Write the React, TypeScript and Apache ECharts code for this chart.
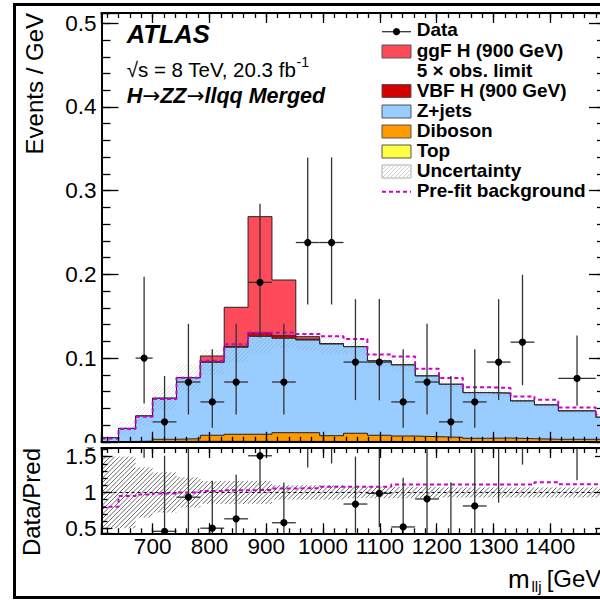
import React, { useEffect, useRef } from "react";
import * as echarts from "echarts";

// m_llj bin edges (GeV)
const binEdges = [610, 640, 670, 700, 742, 784, 826, 868, 910, 952, 994, 1036, 1078, 1120, 1162, 1204, 1246, 1288, 1330, 1372, 1414, 1480, 1500];

// Observed events per bin and the 68% Poisson interval on each count
const dataCounts = [0, 0, 3, 1, 3, 2, 3, 8, 3, 10, 10, 4, 4, 2, 3, 1, 2, 4, 5, 0, 5, 0];
const dataLow = [0, 0, 1.37, 0.17, 1.37, 0.71, 1.37, 5.23, 1.37, 6.89, 6.89, 2.09, 2.09, 0.71, 1.37, 0.17, 0.71, 2.09, 2.84, 0, 2.84, 0];
const dataHigh = [1.84, 1.84, 5.92, 3.3, 5.92, 4.64, 5.92, 11.95, 5.92, 14.27, 14.27, 7.16, 7.16, 4.64, 5.92, 3.3, 4.64, 7.16, 8.38, 1.84, 8.38, 1.84];

// Post-fit predictions (events / GeV)
const topBkg = [0.0002, 0.0003, 0.0004, 0.0005, 0.0006, 0.0006, 0.0006, 0.0005, 0.0005, 0.0005, 0.0004, 0.0004, 0.0004, 0.0003, 0.0003, 0.0003, 0.0002, 0.0002, 0.0002, 0.0002, 0.0002, 0.0002];
const dibosonBkg = [0.0001, 0.0001, 0.0004, 0.0025, 0.0031, 0.0072, 0.0084, 0.0085, 0.0104, 0.0104, 0.0069, 0.0098, 0.0074, 0.0066, 0.0058, 0.005, 0.004, 0.0043, 0.0035, 0.0028, 0.0028, 0.0028];
const zjetsBkg = [0.0047, 0.0156, 0.03, 0.049, 0.0728, 0.0872, 0.104, 0.117, 0.1128, 0.1107, 0.1095, 0.1034, 0.0887, 0.0849, 0.0725, 0.0634, 0.0545, 0.0535, 0.045, 0.041, 0.0338, 0.0263];
const vbfSignal = [0, 0, 0, 0, 0, 0.0005, 0.001, 0.004, 0.003, 0.001, 0, 0, 0, 0, 0, 0, 0, 0, 0, 0, 0, 0];
const ggfSignal = [0, 0, 0, 0, 0, 0.007, 0.0467, 0.139, 0.0666, 0.003, 0.0005, 0, 0, 0, 0, 0, 0, 0, 0, 0, 0, 0];

// Pre-fit total background (events / GeV)
const prefitBkg = [0.004, 0.0152, 0.0299, 0.0512, 0.0765, 0.0969, 0.1164, 0.1304, 0.1305, 0.1289, 0.1261, 0.1227, 0.1042, 0.1019, 0.0872, 0.0763, 0.0652, 0.0644, 0.0541, 0.0502, 0.041, 0.0327];

// Relative background uncertainty per bin
const bkgRelUnc = [0.5, 0.5, 0.35, 0.28, 0.21, 0.16, 0.16, 0.16, 0.1, 0.1, 0.1, 0.08, 0.08, 0.08, 0.08, 0.07, 0.07, 0.07, 0.07, 0.07, 0.07, 0.07];

// Axis ranges and ticks
const X_MIN = 610;
const X_MAX = 1498;
const X_LABELS = [700, 800, 900, 1000, 1100, 1200, 1300, 1400];
const MAIN_Y_MAX = 0.5123;
const RATIO_MIN = 0.43;
const RATIO_MAX = 1.62;

const FONT = '"Liberation Sans", Arial, Helvetica, sans-serif';
const SYMBOL_FONT = '"DejaVu Sans", sans-serif';

const nBins = binEdges.length - 1;
const widths = binEdges.slice(1).map((e, i) => e - binEdges[i]);
const centers = binEdges.slice(1).map((e, i) => (e + binEdges[i]) / 2);
const bkgTotal = zjetsBkg.map((z, i) => z + dibosonBkg[i] + topBkg[i]);
const cumDiboson = dibosonBkg.map((d, i) => d + topBkg[i]);
const cumVbf = bkgTotal.map((b, i) => b + vbfSignal[i]);
const cumGgf = cumVbf.map((b, i) => b + ggfSignal[i]);
const prefitRatio = prefitBkg.map((p, i) => p / bkgTotal[i]);

function stepPoints(values: number[]) {
  return binEdges.map((e, i) => [e, values[Math.min(i, nBins - 1)]]);
}

const mainPoints: number[][] = [];
const ratioPoints: number[][] = [];
for (let i = 0; i < nBins; i++) {
  if (dataCounts[i] <= 0) continue;
  const w = widths[i];
  const b = bkgTotal[i];
  mainPoints.push([centers[i], binEdges[i], binEdges[i + 1], dataCounts[i] / w, dataLow[i] / w, dataHigh[i] / w]);
  ratioPoints.push([centers[i], binEdges[i], binEdges[i + 1], dataCounts[i] / w / b, dataLow[i] / w / b, dataHigh[i] / w / b]);
}
const mainBand = bkgTotal.map((b, i) => [binEdges[i], binEdges[i + 1], b * (1 - bkgRelUnc[i]), b * (1 + bkgRelUnc[i])]);
const ratioBand = bkgRelUnc.map((u, i) => [binEdges[i], binEdges[i + 1], 1 - u, 1 + u]);

// "/" hatch lines clipped to a rectangle, aligned on a global pixel grid
function hatchLines(x0: number, y0: number, x1: number, y1: number, step: number, style: any) {
  const out: any[] = [];
  if (x1 <= x0 || y1 <= y0) return out;
  const cStart = Math.ceil((x0 + y0) / step) * step;
  for (let c = cStart; c <= x1 + y1; c += step) {
    const xs = Math.max(x0, c - y1);
    const xe = Math.min(x1, c - y0);
    if (xe - xs > 0.2) {
      out.push({ type: "line", shape: { x1: xs, y1: c - xs, x2: xe, y2: c - xe }, style });
    }
  }
  return out;
}

function makeHatchRenderer(color: string, width: number, step: number) {
  return (params: any, api: any) => {
    const cs = params.coordSys;
    const p0 = api.coord([api.value(0), api.value(3)]);
    const p1 = api.coord([api.value(1), api.value(2)]);
    const x0 = Math.max(cs.x, p0[0]);
    const x1 = Math.min(cs.x + cs.width, p1[0]);
    const y0 = Math.max(cs.y, p0[1]);
    const y1 = Math.min(cs.y + cs.height, p1[1]);
    return { type: "group", children: hatchLines(x0, y0, x1, y1, step, { stroke: color, lineWidth: width }) };
  };
}

function renderDataPoint(params: any, api: any) {
  const cs = params.coordSys;
  const top = cs.y;
  const bottom = cs.y + cs.height;
  const xc = api.value(0);
  const v = api.value(3);
  const pc = api.coord([xc, v]);
  const pl = api.coord([api.value(1), v]);
  const pr = api.coord([api.value(2), v]);
  const yLo = api.coord([xc, api.value(4)])[1];
  const yHi = api.coord([xc, api.value(5)])[1];
  const y1 = Math.max(top, Math.min(bottom, yHi));
  const y2 = Math.max(top, Math.min(bottom, yLo));
  const stroke = { stroke: "#333", lineWidth: 1.3 };
  const children: any[] = [];
  if (y2 - y1 > 0.5) {
    children.push({ type: "line", shape: { x1: pc[0], y1, x2: pc[0], y2 }, style: stroke });
  }
  if (pc[1] >= top - 0.5 && pc[1] <= bottom + 0.5) {
    children.push({ type: "line", shape: { x1: pl[0], y1: pc[1], x2: pr[0], y2: pc[1] }, style: stroke });
    children.push({ type: "circle", shape: { cx: pc[0], cy: pc[1], r: 3.6 }, style: { fill: "#000" } });
  }
  return { type: "group", children };
}

const axisLineStyle = { color: "#000", width: 1.8 };
const tickLineStyle = { color: "#000", width: 1.3 };

function xAxisDef(gridIndex: number, position: string, step: number, len: number, labels: boolean) {
  return {
    type: "value",
    gridIndex,
    position,
    min: X_MIN,
    max: X_MAX,
    minInterval: step,
    maxInterval: step,
    splitNumber: Math.round((X_MAX - X_MIN) / step),
    z: 10,
    axisLine: { show: true, onZero: false, lineStyle: axisLineStyle },
    axisTick: { show: true, inside: true, length: len, lineStyle: tickLineStyle },
    axisLabel: labels
      ? {
          show: true,
          margin: 2,
          fontSize: 22.5,
          fontFamily: FONT,
          color: "#000",
          formatter: (v: number) => (X_LABELS.indexOf(Math.round(v)) >= 0 && Math.abs(v - Math.round(v)) < 1e-6 ? String(Math.round(v)) : ""),
        }
      : { show: false },
    splitLine: { show: false },
  };
}

function yAxisDef(gridIndex: number, position: string, min: number, max: number, step: number, len: number, labels: number[] | null) {
  return {
    type: "value",
    gridIndex,
    position,
    min,
    max,
    minInterval: step,
    maxInterval: step,
    splitNumber: Math.max(1, Math.round((max - min) / step)),
    z: 10,
    axisLine: { show: true, onZero: false, lineStyle: axisLineStyle },
    axisTick: { show: true, inside: true, length: len, lineStyle: tickLineStyle },
    axisLabel: labels
      ? {
          show: true,
          margin: 5,
          fontSize: 22.5,
          fontFamily: FONT,
          color: "#000",
          formatter: (v: number) => {
            const hit = labels.find((l) => Math.abs(l - v) < 1e-6);
            return hit === undefined ? "" : String(hit);
          },
        }
      : { show: false },
    splitLine: { show: false },
  };
}

function areaSeries(name: string, values: number[], color: string, z: number) {
  return {
    type: "line",
    name,
    xAxisIndex: 0,
    yAxisIndex: 0,
    step: "end",
    symbol: "none",
    silent: true,
    clip: true,
    z,
    data: stepPoints(values),
    lineStyle: { color: "#222", width: 1 },
    areaStyle: { color, opacity: 1, origin: "start" },
  };
}

const MAGENTA = "#cc00cc";
const C_GGF = "#ff4a5a";
const C_VBF = "#d40000";
const C_ZJETS = "#99ccff";
const C_DIBOSON = "#ff9900";
const C_TOP = "#ffff44";

function legendGraphics() {
  const g: any[] = [];
  const bx = 382;
  const bw = 29;
  const tx = 416.7;
  const txt = (text: string, y: number) => ({
    type: "text",
    z: 20,
    style: { text, x: tx, y, fill: "#000", fontSize: 19, fontWeight: "bold", fontFamily: FONT, align: "left", verticalAlign: "middle" },
  });
  const box = (y: number, fill: string, stroke = "#555") => ({
    type: "rect",
    z: 20,
    shape: { x: bx, y, width: bw, height: 13 },
    style: { fill, stroke, lineWidth: 1 },
  });
  // Data
  g.push({ type: "line", z: 20, shape: { x1: bx, y1: 31.7, x2: bx + bw, y2: 31.7 }, style: { stroke: "#333", lineWidth: 1.3 } });
  g.push({ type: "circle", z: 20, shape: { cx: bx + bw / 2, cy: 31.7, r: 3.6 }, style: { fill: "#000" } });
  g.push(txt("Data", 29.5));
  g.push(box(45, C_GGF));
  g.push(txt("ggF H (900 GeV)", 50.5));
  g.push(txt("5 \u00d7 obs. limit", 70));
  g.push(box(84.5, C_VBF));
  g.push(txt("VBF H (900 GeV)", 90.5));
  g.push(box(105, C_ZJETS));
  g.push(txt("Z+jets", 110.8));
  g.push(box(125, C_DIBOSON));
  g.push(txt("Diboson", 130));
  g.push(box(145, C_TOP));
  g.push(txt("Top", 150));
  g.push(box(165, "#fff", "#aaa"));
  hatchLines(bx + 1, 166, bx + bw - 1, 177, 4, { stroke: "rgba(150,150,150,0.45)", lineWidth: 1 }).forEach((l) => g.push({ ...l, z: 20 }));
  g.push(txt("Uncertainty", 170));
  g.push({ type: "line", z: 20, shape: { x1: bx, y1: 191.7, x2: bx + bw, y2: 191.7 }, style: { stroke: MAGENTA, lineWidth: 2, lineDash: [4, 3] } });
  g.push(txt("Pre-fit background", 190.5));
  return g;
}

function buildOption(): any {
  const graphic: any[] = [
    // outer frame of the figure
    { type: "rect", z: 30, shape: { x: 14.5, y: 4.5, width: 620, height: 593 }, style: { fill: "none", stroke: "#000", lineWidth: 3 } },
    // pad edge hiding the lower half of the "0" label
    { type: "rect", z: 25, shape: { x: 40, y: 442.8, width: 59, height: 4.8 }, style: { fill: "#fff" } },
    { type: "text", z: 20, style: { text: "ATLAS", x: 126.7, y: 34.3, fill: "#000", fontSize: 25.5, fontWeight: "bold", fontStyle: "italic", fontFamily: FONT, align: "left", verticalAlign: "middle" } },
    { type: "text", z: 20, style: { text: "\u221as = 8 TeV, 20.3 fb", x: 126.7, y: 69.3, fill: "#000", fontSize: 20.5, fontFamily: FONT, align: "left", verticalAlign: "middle" } },
    { type: "text", z: 20, style: { text: "-1", x: 296.5, y: 61.5, fill: "#000", fontSize: 14, fontFamily: FONT, align: "left", verticalAlign: "middle" } },
    {
      type: "text",
      z: 20,
      style: {
        text: "{t|H}{a|\u2192}{t|ZZ}{a|\u2192}{t|llqq Merged}",
        x: 126.7,
        y: 95.5,
        fill: "#000",
        align: "left",
        verticalAlign: "middle",
        rich: {
          t: { fontSize: 21.5, fontWeight: "bold", fontStyle: "italic", fontFamily: FONT, fill: "#000" },
          a: { fontSize: 21.5, fontWeight: "normal", fontFamily: SYMBOL_FONT, fill: "#000" },
        },
      },
    },
    { type: "text", z: 20, x: 34.5, y: 13, rotation: Math.PI / 2, style: { text: "Events / GeV", x: 0, y: 0, fill: "#000", fontSize: 24, fontFamily: FONT, align: "right", verticalAlign: "middle" } },
    { type: "text", z: 20, x: 31, y: 448, rotation: Math.PI / 2, style: { text: "Data/Pred", x: 0, y: 0, fill: "#000", fontSize: 24, fontFamily: FONT, align: "right", verticalAlign: "middle" } },
    { type: "text", z: 20, style: { text: "m", x: 508, y: 578.5, fill: "#000", fontSize: 26, fontFamily: FONT, align: "left", verticalAlign: "middle" } },
    { type: "text", z: 20, style: { text: "llj", x: 531.5, y: 586, fill: "#000", fontSize: 15, fontFamily: FONT, align: "left", verticalAlign: "middle" } },
    { type: "text", z: 20, style: { text: "[GeV]", x: 546.7, y: 578.5, fill: "#000", fontSize: 24, fontFamily: FONT, align: "left", verticalAlign: "middle" } },
    ...legendGraphics(),
  ];

  return {
    animation: false,
    backgroundColor: "#fff",
    textStyle: { fontFamily: FONT },
    grid: [
      { left: 101.5, top: 13, width: 504.5, height: 428.8, outerBoundsMode: "none", containLabel: false },
      { left: 101.5, top: 448, width: 504.5, height: 85.3, outerBoundsMode: "none", containLabel: false },
    ],
    xAxis: [
      xAxisDef(0, "bottom", 100, 10, false),
      xAxisDef(0, "bottom", 20, 5, false),
      xAxisDef(0, "top", 100, 10, false),
      xAxisDef(0, "top", 20, 5, false),
      xAxisDef(1, "bottom", 100, 10, true),
      xAxisDef(1, "bottom", 20, 5, false),
      xAxisDef(1, "top", 100, 10, false),
      xAxisDef(1, "top", 20, 5, false),
    ],
    yAxis: [
      yAxisDef(0, "left", 0, MAIN_Y_MAX, 0.1, 17, [0, 0.1, 0.2, 0.3, 0.4, 0.5]),
      yAxisDef(0, "left", 0, MAIN_Y_MAX, 0.02, 9, null),
      yAxisDef(0, "right", 0, MAIN_Y_MAX, 0.1, 17, null),
      yAxisDef(0, "right", 0, MAIN_Y_MAX, 0.02, 9, null),
      yAxisDef(1, "left", RATIO_MIN, RATIO_MAX, 0.5, 11, [0.5, 1, 1.5]),
      yAxisDef(1, "left", RATIO_MIN, RATIO_MAX, 0.1, 6, null),
      yAxisDef(1, "right", RATIO_MIN, RATIO_MAX, 0.5, 11, null),
      yAxisDef(1, "right", RATIO_MIN, RATIO_MAX, 0.1, 6, null),
    ],
    graphic,
    series: [
      areaSeries("ggF H (900 GeV)", cumGgf, C_GGF, 2),
      areaSeries("VBF H (900 GeV)", cumVbf, C_VBF, 3),
      areaSeries("Z+jets", bkgTotal, C_ZJETS, 4),
      areaSeries("Diboson", cumDiboson, C_DIBOSON, 5),
      areaSeries("Top", topBkg, C_TOP, 6),
      {
        type: "custom",
        name: "Uncertainty",
        xAxisIndex: 0,
        yAxisIndex: 0,
        z: 7,
        silent: true,
        data: mainBand,
        encode: { x: [0, 1], y: [2, 3] },
        renderItem: makeHatchRenderer("rgba(120,120,120,0.2)", 1, 4),
      },
      {
        type: "line",
        name: "Pre-fit background",
        xAxisIndex: 0,
        yAxisIndex: 0,
        step: "end",
        symbol: "none",
        silent: true,
        z: 8,
        data: stepPoints(prefitBkg),
        lineStyle: { color: MAGENTA, width: 2, type: [4, 3] },
      },
      {
        type: "custom",
        name: "Data",
        xAxisIndex: 0,
        yAxisIndex: 0,
        z: 9,
        silent: true,
        data: mainPoints,
        encode: { x: 0, y: 3 },
        renderItem: renderDataPoint,
      },
      {
        type: "custom",
        name: "Uncertainty ratio",
        xAxisIndex: 4,
        yAxisIndex: 4,
        z: 7,
        silent: true,
        data: ratioBand,
        encode: { x: [0, 1], y: [2, 3] },
        renderItem: makeHatchRenderer("#5a5a5a", 0.9, 4.5),
      },
      {
        type: "line",
        name: "Unity",
        xAxisIndex: 4,
        yAxisIndex: 4,
        symbol: "none",
        silent: true,
        z: 8,
        data: [
          [X_MIN, 1],
          [X_MAX, 1],
        ],
        lineStyle: { color: "#000", width: 1, type: [3, 3] },
      },
      {
        type: "line",
        name: "Pre-fit ratio",
        xAxisIndex: 4,
        yAxisIndex: 4,
        step: "end",
        symbol: "none",
        silent: true,
        z: 8,
        data: stepPoints(prefitRatio),
        lineStyle: { color: MAGENTA, width: 2, type: [4, 3] },
      },
      {
        type: "custom",
        name: "Data ratio",
        xAxisIndex: 4,
        yAxisIndex: 4,
        z: 9,
        silent: true,
        data: ratioPoints,
        encode: { x: 0, y: 3 },
        renderItem: renderDataPoint,
      },
    ],
  };
}

export default function App() {
  const ref = useRef<HTMLDivElement>(null);
  useEffect(() => {
    if (!ref.current) return;
    const chart = echarts.init(ref.current, null, { renderer: "svg" });
    chart.setOption(buildOption());
    return () => {
      chart.dispose();
    };
  }, []);
  return (
    <div style={{ position: "fixed", left: 0, top: 0, width: 600, height: 600, overflow: "hidden", background: "#fff" }}>
      <div ref={ref} style={{ width: 620, height: 600 }} />
    </div>
  );
}
